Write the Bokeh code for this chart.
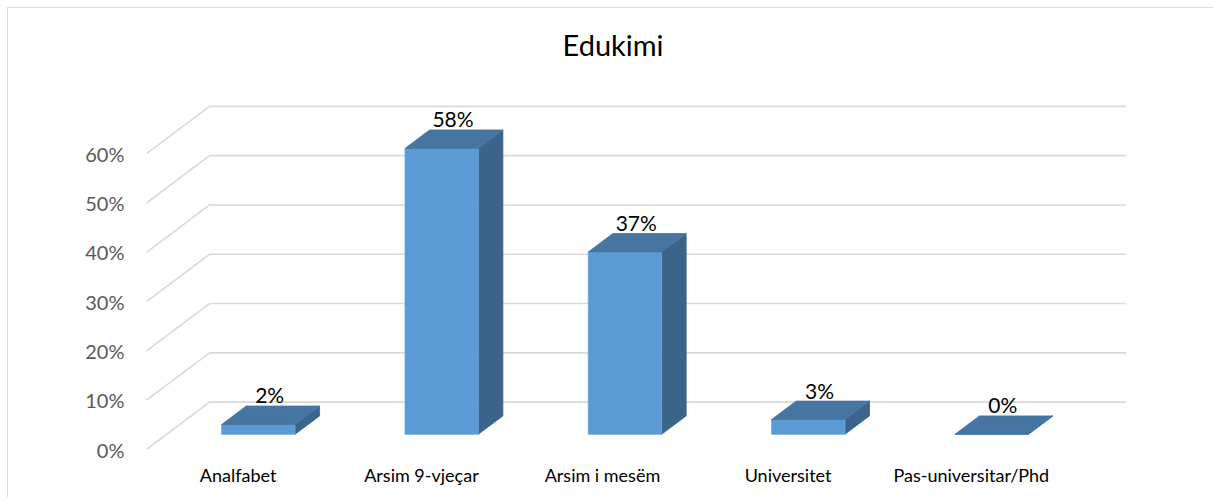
from bokeh.plotting import figure
from bokeh.models import Range1d, FixedTicker, PrintfTickFormatter, ColumnDataSource
from bokeh.embed import file_html
from bokeh.resources import INLINE
from bokeh.core.properties import value

# ---- data ----
categories = ["Analfabet", "Arsim 9-vjeçar", "Arsim  i mesëm", "Universitet", "Pas-universitar/Phd"]
values = [2, 58, 37, 3, 0]
value_labels = ["2%", "58%", "37%", "3%", "0%"]
y_ticks = [0, 10, 20, 30, 40, 50, 60]
chart_title = "Edukimi"

# ---- 3D oblique projection settings ----
DX = 0.344      # x shift (category units) for full floor depth
DY = 9.6        # y shift (percent units) for full floor depth
D0, D1 = 0.32, 0.71   # bar front / back depth
BAR_W = 0.4
DL = 0.5        # depth of the data labels
PX_PER_CAT = 183.3
PX_PER_PCT = 4.93

W, H = 1206, 490
MB_L, MB_R, MB_T, MB_B = 138, 64, 68, 49
frame_w = W - MB_L - MB_R
frame_h = H - MB_T - MB_B

p = figure(width=W, height=H, output_backend="svg", toolbar_location=None,
           x_range=Range1d(0, frame_w / PX_PER_CAT), y_range=Range1d(0, frame_h / PX_PER_PCT),
           min_border_left=MB_L, min_border_right=MB_R, min_border_top=MB_T, min_border_bottom=MB_B)
p.margin = (8, 0, 0, 8)
p.styles = {"box-shadow": "-1px -1px 0px 0px #d9d9d9"}
p.outline_line_color = None
p.xgrid.visible = False
p.ygrid.visible = False
p.background_fill_color = "white"
p.border_fill_color = "white"

# ---- gridlines: side wall diagonals + back wall lines ----
n = len(categories)
gx = [[0, DX, n + DX] for v in y_ticks]
gy = [[v, v + DY, v + DY] for v in y_ticks]
p.multi_line(gx, gy, line_color="#d9d9d9", line_width=1.6)

# ---- bars ----
front_l, front_r, front_b, front_t = [], [], [], []
top_xs, top_ys, side_xs, side_ys = [], [], [], []
for i, v in enumerate(values):
    cx = i + 0.5
    l0 = cx - BAR_W / 2 + DX * D0
    r0 = cx + BAR_W / 2 + DX * D0
    l1 = cx - BAR_W / 2 + DX * D1
    r1 = cx + BAR_W / 2 + DX * D1
    b0, b1 = DY * D0, DY * D1
    front_l.append(l0); front_r.append(r0); front_b.append(b0); front_t.append(v + b0)
    top_xs.append([l0, r0, r1, l1]); top_ys.append([v + b0, v + b0, v + b1, v + b1])
    side_xs.append([r0, r0, r1, r1]); side_ys.append([b0, v + b0, v + b1, b1])

p.patches(side_xs, side_ys, fill_color="#3B648B", line_color="#3B648B", line_width=0.8)
p.quad(left=front_l, right=front_r, bottom=front_b, top=front_t,
       fill_color="#5B9BD5", line_color="#6FA8DC", line_width=0.8)
p.patches(top_xs, top_ys, fill_color="#4675A1", line_color="#4675A1", line_width=0.8)

# ---- data labels ----
src = ColumnDataSource(dict(x=[i + 0.5 + DX * DL for i in range(n)],
                            y=[v + DY * DL for v in values],
                            t=value_labels))
p.text(x="x", y="y", text="t", source=src, text_align="center", text_baseline="middle",
       y_offset=-21, text_font=value("Lato"), text_font_size="21px", text_color="#000000")

# ---- axes ----
p.yaxis.ticker = FixedTicker(ticks=y_ticks)
p.yaxis.formatter = PrintfTickFormatter(format="%d%%")
p.yaxis.axis_line_color = None
p.yaxis.major_tick_line_color = None
p.yaxis.minor_tick_line_color = None
p.yaxis.major_tick_in = 0
p.yaxis.major_tick_out = 0
p.yaxis.major_label_standoff = 22
p.yaxis.major_label_text_font = "Lato"
p.yaxis.major_label_text_font_size = "20px"
p.yaxis.major_label_text_color = "#595959"

cat_ticks = [i + 0.5 for i in range(n)]
p.xaxis.ticker = FixedTicker(ticks=cat_ticks)
p.xaxis.major_label_overrides = {t: c for t, c in zip(cat_ticks, categories)}
p.xaxis.axis_line_color = None
p.xaxis.major_tick_line_color = None
p.xaxis.minor_tick_line_color = None
p.xaxis.major_tick_in = 0
p.xaxis.major_tick_out = 0
p.xaxis.major_label_standoff = 14
p.xaxis.major_label_text_font = "Lato"
p.xaxis.major_label_text_font_size = "18px"
p.xaxis.major_label_text_color = "#000000"

# ---- title ----
p.title.text = chart_title
p.title.align = "left"
p.title.offset = 416
p.title.standoff = 30
p.title.text_font = "Lato"
p.title.text_font_style = "normal"
p.title.text_font_size = "29px"
p.title.text_color = "#000000"

open("out.html", "w").write(file_html(p, INLINE))
